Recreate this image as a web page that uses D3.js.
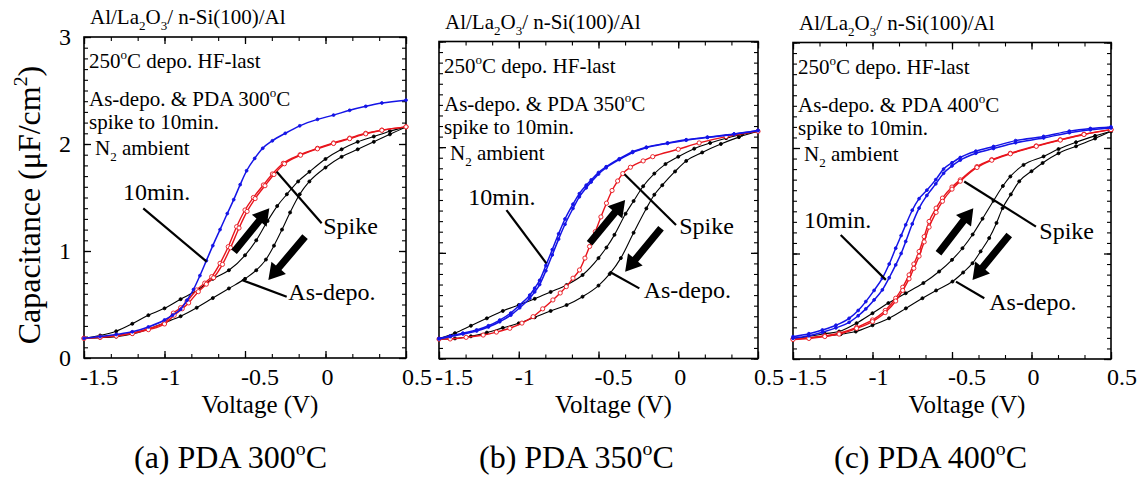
<!DOCTYPE html>
<html>
<head>
<meta charset="utf-8">
<script src="https://cdn.jsdelivr.net/npm/d3@7"></script>
<style>
  body { margin: 0; background: #fff; }
  svg { display: block; }
  text { font-family: "Liberation Serif", "Times New Roman", serif; fill: #000; }
</style>
</head>
<body>
<div id="chart"></div>
<script>
// Axis ticks
const xMajor = [-1.5, -1, -0.5, 0, 0.5];
const xTickLabels = ["-1.5", "-1", "-0.5", "0", "0.5"];
const yMajor = [0, 1, 2, 3];
const yTickLabels = ["0", "1", "2", "3"];

// (a) PDA 300C  -- [voltage, capacitance]
const a_blue = [[-1.5,0.184],[-1.4,0.2],[-1.3,0.22],[-1.2,0.245],[-1.1,0.29],[-1.0,0.355],[-0.95,0.4],[-0.9,0.455],[-0.86,0.54],[-0.82,0.64],[-0.78,0.77],[-0.74,0.91],[-0.7,1.05],[-0.655,1.2],[-0.61,1.35],[-0.57,1.48],[-0.53,1.62],[-0.49,1.75],[-0.44,1.865],[-0.39,1.96],[-0.33,2.03],[-0.25,2.1],[-0.16,2.17],[-0.05,2.23],[0.05,2.27],[0.15,2.315],[0.25,2.352],[0.35,2.383],[0.5,2.41]];
const a_red1 = [[-1.5,0.184],[-1.4,0.195],[-1.3,0.21],[-1.2,0.235],[-1.1,0.275],[-1.0,0.33],[-0.945,0.42],[-0.9,0.47],[-0.86,0.53],[-0.8,0.636],[-0.75,0.7],[-0.707,0.76],[-0.655,0.885],[-0.604,1.04],[-0.552,1.227],[-0.5,1.383],[-0.448,1.5],[-0.386,1.617],[-0.33,1.72],[-0.262,1.82],[-0.158,1.9],[-0.05,1.96],[0.05,2.01],[0.15,2.055],[0.25,2.1],[0.35,2.13],[0.5,2.16]];
const a_red2 = [[-1.5,0.184],[-1.4,0.193],[-1.3,0.205],[-1.2,0.228],[-1.1,0.265],[-1.0,0.318],[-0.94,0.4],[-0.89,0.46],[-0.85,0.515],[-0.79,0.62],[-0.74,0.69],[-0.695,0.75],[-0.64,0.875],[-0.59,1.03],[-0.537,1.215],[-0.487,1.37],[-0.437,1.49],[-0.376,1.61],[-0.32,1.715],[-0.255,1.815],[-0.155,1.895],[-0.05,1.955],[0.05,2.005],[0.15,2.05],[0.25,2.095],[0.35,2.128],[0.5,2.16]];
const a_blackUp = [[-1.5,0.184],[-1.4,0.21],[-1.3,0.25],[-1.2,0.32],[-1.1,0.4],[-1.0,0.464],[-0.9,0.55],[-0.8,0.63],[-0.7,0.74],[-0.6,0.82],[-0.5,0.96],[-0.43,1.1],[-0.36,1.28],[-0.3,1.42],[-0.24,1.53],[-0.17,1.65],[-0.1,1.74],[0.0,1.86],[0.1,1.95],[0.2,2.02],[0.3,2.07],[0.4,2.12],[0.5,2.16]];
const a_blackDown = [[-1.5,0.184],[-1.4,0.19],[-1.3,0.2],[-1.2,0.225],[-1.1,0.27],[-1.0,0.33],[-0.9,0.39],[-0.8,0.47],[-0.7,0.56],[-0.6,0.65],[-0.5,0.74],[-0.43,0.82],[-0.37,0.92],[-0.32,1.05],[-0.27,1.2],[-0.22,1.36],[-0.16,1.53],[-0.1,1.65],[0.0,1.78],[0.1,1.88],[0.2,1.95],[0.3,2.02],[0.4,2.09],[0.5,2.16]];

// (b) PDA 350C
const b_blue1 = [[-1.5,0.19],[-1.43,0.213],[-1.35,0.24],[-1.264,0.27],[-1.19,0.31],[-1.119,0.364],[-1.05,0.43],[-0.994,0.506],[-0.931,0.6],[-0.9,0.665],[-0.869,0.74],[-0.83,0.88],[-0.79,1.03],[-0.75,1.18],[-0.71,1.32],[-0.66,1.46],[-0.62,1.56],[-0.577,1.64],[-0.546,1.69],[-0.5,1.76],[-0.452,1.815],[-0.37,1.89],[-0.286,1.957],[-0.2,2.0],[-0.067,2.04],[0.05,2.07],[0.183,2.095],[0.35,2.125],[0.5,2.158]];
const b_blue2 = [[-1.5,0.185],[-1.43,0.207],[-1.35,0.232],[-1.264,0.26],[-1.19,0.298],[-1.119,0.348],[-1.05,0.41],[-0.994,0.48],[-0.931,0.57],[-0.9,0.63],[-0.869,0.7],[-0.83,0.83],[-0.79,0.98],[-0.75,1.13],[-0.71,1.27],[-0.66,1.42],[-0.62,1.53],[-0.577,1.615],[-0.546,1.67],[-0.5,1.745],[-0.452,1.805],[-0.37,1.882],[-0.286,1.95],[-0.2,1.995],[-0.067,2.036],[0.05,2.066],[0.183,2.092],[0.35,2.123],[0.5,2.158]];
const b_red = [[-1.5,0.183],[-1.43,0.185],[-1.33,0.2],[-1.223,0.222],[-1.14,0.25],[-1.056,0.286],[-0.98,0.335],[-0.91,0.396],[-0.85,0.47],[-0.786,0.554],[-0.74,0.62],[-0.702,0.68],[-0.66,0.76],[-0.619,0.838],[-0.585,0.95],[-0.556,1.06],[-0.52,1.2],[-0.485,1.34],[-0.45,1.47],[-0.415,1.59],[-0.38,1.68],[-0.348,1.75],[-0.3,1.81],[-0.22,1.87],[-0.16,1.91],[0.0,1.98],[0.131,2.04],[0.3,2.1],[0.5,2.15]];
const b_blackUp = [[-1.5,0.19],[-1.4,0.24],[-1.3,0.31],[-1.2,0.38],[-1.1,0.45],[-1.0,0.506],[-0.9,0.565],[-0.8,0.63],[-0.7,0.696],[-0.6,0.79],[-0.5,0.95],[-0.45,1.05],[-0.4,1.17],[-0.33,1.37],[-0.28,1.49],[-0.22,1.63],[-0.15,1.75],[-0.08,1.84],[0.0,1.91],[0.1,1.986],[0.2,2.04],[0.3,2.085],[0.4,2.12],[0.5,2.15]];
const b_blackDown = [[-1.5,0.183],[-1.4,0.19],[-1.3,0.21],[-1.2,0.245],[-1.1,0.29],[-1.0,0.333],[-0.9,0.39],[-0.8,0.45],[-0.7,0.506],[-0.6,0.585],[-0.5,0.69],[-0.43,0.8],[-0.36,0.95],[-0.28,1.19],[-0.2,1.42],[-0.15,1.55],[-0.1,1.64],[-0.02,1.77],[0.05,1.87],[0.15,1.95],[0.267,2.03],[0.38,2.095],[0.5,2.15]];

// (c) PDA 400C
const c_blue1 = [[-1.5,0.212],[-1.4,0.24],[-1.315,0.275],[-1.23,0.32],[-1.147,0.386],[-1.09,0.46],[-1.042,0.544],[-0.99,0.65],[-0.938,0.766],[-0.895,0.9],[-0.854,1.05],[-0.82,1.17],[-0.791,1.272],[-0.75,1.41],[-0.707,1.52],[-0.658,1.6],[-0.602,1.7],[-0.553,1.8],[-0.5,1.86],[-0.448,1.91],[-0.35,1.97],[-0.239,2.014],[-0.1,2.07],[0.076,2.11],[0.238,2.16],[0.37,2.185],[0.5,2.2]];
const c_blue2 = [[-1.5,0.196],[-1.4,0.22],[-1.315,0.253],[-1.23,0.295],[-1.147,0.348],[-1.09,0.41],[-1.042,0.475],[-0.99,0.56],[-0.938,0.655],[-0.895,0.77],[-0.854,0.892],[-0.82,1.0],[-0.791,1.114],[-0.75,1.28],[-0.707,1.43],[-0.658,1.55],[-0.602,1.66],[-0.553,1.76],[-0.5,1.83],[-0.448,1.885],[-0.35,1.95],[-0.239,1.995],[-0.1,2.05],[0.076,2.095],[0.238,2.145],[0.37,2.172],[0.5,2.19]];
const c_red1 = [[-1.5,0.19],[-1.4,0.2],[-1.3,0.22],[-1.21,0.244],[-1.1,0.3],[-1.0,0.37],[-0.92,0.46],[-0.854,0.576],[-0.81,0.68],[-0.77,0.797],[-0.74,0.9],[-0.707,1.019],[-0.675,1.16],[-0.644,1.304],[-0.6,1.43],[-0.56,1.525],[-0.5,1.63],[-0.448,1.698],[-0.343,1.824],[-0.25,1.89],[-0.133,1.95],[0.03,2.02],[0.181,2.078],[0.33,2.13],[0.5,2.174]];
const c_red2 = [[-1.5,0.185],[-1.4,0.195],[-1.3,0.213],[-1.21,0.236],[-1.1,0.29],[-1.0,0.355],[-0.92,0.44],[-0.854,0.55],[-0.81,0.65],[-0.77,0.76],[-0.74,0.86],[-0.707,0.975],[-0.675,1.11],[-0.644,1.25],[-0.6,1.39],[-0.56,1.495],[-0.5,1.61],[-0.448,1.685],[-0.343,1.815],[-0.25,1.884],[-0.133,1.945],[0.03,2.016],[0.181,2.075],[0.33,2.128],[0.5,2.174]];
const c_blackUp = [[-1.5,0.19],[-1.4,0.215],[-1.3,0.24],[-1.21,0.26],[-1.1,0.34],[-1.0,0.434],[-0.9,0.53],[-0.791,0.623],[-0.68,0.72],[-0.581,0.829],[-0.5,0.94],[-0.434,1.05],[-0.37,1.18],[-0.308,1.33],[-0.239,1.5],[-0.18,1.64],[-0.133,1.73],[-0.05,1.84],[0.076,1.92],[0.17,1.99],[0.28,2.055],[0.4,2.115],[0.5,2.16]];
const c_blackDown = [[-1.5,0.19],[-1.4,0.2],[-1.3,0.215],[-1.2,0.235],[-1.105,0.26],[-1.0,0.32],[-0.896,0.386],[-0.79,0.48],[-0.686,0.576],[-0.6,0.65],[-0.497,0.734],[-0.43,0.82],[-0.371,0.908],[-0.32,1.02],[-0.266,1.146],[-0.22,1.29],[-0.182,1.43],[-0.13,1.56],[-0.077,1.684],[0.0,1.78],[0.07,1.858],[0.17,1.95],[0.28,2.016],[0.4,2.09],[0.5,2.158]];

const temps = ["300", "350", "400"];
const letters = ["(a)", "(b)", "(c)"];

// Layout of the three panels (pixel frames) and annotation anchors (data units)
const panels = [
  { left: 84, right: 406, top: 37, bottom: 358, capX: 134,
    curves: { black: [a_blackUp, a_blackDown], red: [a_red1, a_red2], blue: [a_blue] },
    notes: { tenMin: [-1.258, 1.477], tenLine: [[-1.132, 1.399], [-0.738, 0.9]],
             spike: [-0.014, 1.159], spikeLine: [[-0.303, 1.741], [-0.024, 1.259]],
             asdepo: [-0.231, 0.542], asLine: [[-0.52, 0.729], [-0.241, 0.573]],
             up: [[-0.568, 0.993], [-0.349, 1.399]], down: [[-0.127, 1.134], [-0.355, 0.729]] } },
  { left: 439, right: 758, top: 41.5, bottom: 358.5, capX: 479,
    curves: { black: [b_blackUp, b_blackDown], red: [b_red], blue: [b_blue1, b_blue2] },
    notes: { tenMin: [-1.317, 1.453], tenLine: [[-1.077, 1.405], [-0.827, 0.901]],
             spike: [0.006, 1.175], spikeLine: [[-0.337, 1.743], [-0.014, 1.263]],
             asdepo: [-0.217, 0.57], asLine: [[-0.431, 0.821], [-0.244, 0.664]],
             up: [[-0.556, 1.09], [-0.333, 1.5]], down: [[-0.108, 1.232], [-0.333, 0.821]] } },
  { left: 793, right: 1111, top: 42.5, bottom: 359, capX: 834,
    curves: { black: [c_blackUp, c_blackDown], red: [c_red1, c_red2], blue: [c_blue1, c_blue2] },
    notes: { tenMin: [-1.431, 1.24], tenLine: [[-1.2, 1.176], [-0.916, 0.75]],
             spike: [0.049, 1.139], spikeLine: [[-0.423, 1.682], [0.028, 1.255]],
             asdepo: [-0.266, 0.465], asLine: [[-0.475, 0.733], [-0.297, 0.576]],
             up: [[-0.585, 1.003], [-0.366, 1.43]], down: [[-0.14, 1.176], [-0.371, 0.75]] } }
];

const BLUE = "#1414e6", RED = "#e8141c";

const svg = d3.select("#chart").append("svg")
    .attr("width", 1147)
    .attr("height", 477);
svg.append("rect").attr("width", 1147).attr("height", 477).attr("fill", "#fff");

// text with sub/superscripts: parts = [[string, "sup"|"sub"|undefined], ...]
function rich(sel, parts, size) {
  let shift = 0;
  parts.forEach(p => {
    const target = p[1] === "sup" ? -size * 0.42 : p[1] === "sub" ? size * 0.3 : 0;
    const t = sel.append("tspan").text(p[0]).attr("dy", target - shift);
    if (p[1]) t.attr("font-size", size * 0.62);
    shift = target;
  });
  return sel;
}

function arrowPath(x1, y1, x2, y2) {
  const dx = x2 - x1, dy = y2 - y1, len = Math.hypot(dx, dy);
  const ux = dx / len, uy = dy / len, nx = -uy, ny = ux;
  const sw = 3.6, hw = 9.5, hl = 16;
  const bx = x2 - ux * hl, by = y2 - uy * hl;
  const pts = [
    [x1 + nx * sw, y1 + ny * sw], [bx + nx * sw, by + ny * sw], [bx + nx * hw, by + ny * hw],
    [x2, y2], [bx - nx * hw, by - ny * hw], [bx - nx * sw, by - ny * sw], [x1 - nx * sw, y1 - ny * sw]
  ];
  return "M" + pts.map(p => p.join(",")).join("L") + "Z";
}

panels.forEach((p, i) => {
  const x = d3.scaleLinear().domain([-1.5, 0.5]).range([p.left, p.right]);
  const y = d3.scaleLinear().domain([0, 3]).range([p.bottom, p.top]);
  const g = svg.append("g");

  // inward ticks on all four sides
  const xMinor = d3.range(0, 13).map(k => -1.5 + k * 0.5 / 3);
  const yMinor = d3.range(0, 31).map(k => k * 0.1);
  const tickSets = [
    [d3.axisBottom(x), `translate(0,${p.bottom})`, xMajor, xMinor],
    [d3.axisTop(x), `translate(0,${p.top})`, xMajor, xMinor],
    [d3.axisLeft(y), `translate(${p.left},0)`, yMajor, yMinor],
    [d3.axisRight(y), `translate(${p.right},0)`, yMajor, yMinor]
  ];
  tickSets.forEach(([axis, tr, major, minor]) => {
    g.append("g").attr("transform", tr)
      .call(axis.tickValues(minor).tickSize(-4).tickFormat(""))
      .call(s => s.select(".domain").remove())
      .selectAll("line").attr("stroke-width", 1.1);
    g.append("g").attr("transform", tr)
      .call(axis.tickValues(major).tickSize(-7).tickFormat(""))
      .call(s => s.select(".domain").remove())
      .selectAll("line").attr("stroke-width", 1.3);
  });

  g.append("rect")
    .attr("x", p.left).attr("y", p.top)
    .attr("width", p.right - p.left).attr("height", p.bottom - p.top)
    .attr("fill", "none").attr("stroke", "#000").attr("stroke-width", 1.6);

  // x tick labels
  g.selectAll(".xl").data(xMajor).join("text")
    .attr("x", d => x(d) - 4).attr("y", 385)
    .attr("font-size", 24).text((d, k) => xTickLabels[k]);

  // y tick labels only on the first panel
  if (i === 0) {
    g.selectAll(".yl").data(yMajor).join("text")
      .attr("x", p.left - 13).attr("y", d => y(d))
      .attr("dy", "0.35em").attr("text-anchor", "end")
      .attr("font-size", 24).text((d, k) => yTickLabels[k]);
    rich(g.append("text")
      .attr("transform", `translate(${p.left - 44},205) rotate(-90)`)
      .attr("text-anchor", "middle").attr("font-size", 32),
      [["Capacitance (\u03BCF/cm"], ["2", "sup"], [")"]], 32);
  }

  // axis title and caption
  g.append("text").attr("x", (p.left + p.right) / 2 + 15).attr("y", 413)
    .attr("text-anchor", "middle").attr("font-size", 25).text("Voltage (V)");
  rich(g.append("text").attr("x", p.capX).attr("y", 468).attr("font-size", 32),
    [[letters[i] + " PDA " + temps[i]], ["o", "sup"], ["C"]], 32);

  // header texts
  rich(g.append("text").attr("x", p.left + 6).attr("y", p.top - 13).attr("font-size", 21),
    [["Al/La"], ["2", "sub"], ["O"], ["3", "sub"], ["/ n-Si(100)/Al"]], 21);
  rich(g.append("text").attr("x", p.left + 5).attr("y", p.top + 31).attr("font-size", 21),
    [["250"], ["o", "sup"], ["C depo. HF-last"]], 21);
  rich(g.append("text").attr("x", p.left + 5).attr("y", p.top + 69).attr("font-size", 21),
    [["As-depo. & PDA " + temps[i]], ["o", "sup"], ["C"]], 21);
  g.append("text").attr("x", p.left + 5).attr("y", p.top + 92).attr("font-size", 21)
    .text("spike to 10min.");
  rich(g.append("text").attr("x", p.left + 11).attr("y", p.top + 118).attr("font-size", 21),
    [["N"], ["2", "sub"], [" ambient"]], 21);

  // curves
  const line = d3.line().x(d => x(d[0])).y(d => y(d[1])).curve(d3.curveMonotoneX);
  const styles = {
    black: { color: "#000", r: 1.5, fill: "#000", w: 1.1 },
    red:   { color: RED, r: 2.1, fill: "#fff", w: 1.4 },
    blue:  { color: BLUE, r: 1.4, fill: BLUE, w: 1.5 }
  };
  ["black", "red", "blue"].forEach(key => {
    const st = styles[key];
    p.curves[key].forEach(data => {
      g.append("path").datum(data)
        .attr("fill", "none").attr("stroke", st.color).attr("stroke-width", st.w)
        .attr("d", line);
      g.selectAll(null).data(data).join("circle")
        .attr("cx", d => x(d[0])).attr("cy", d => y(d[1])).attr("r", st.r)
        .attr("fill", st.fill).attr("stroke", st.color).attr("stroke-width", 0.9);
    });
  });

  // annotations
  const n = p.notes;
  [n.tenLine, n.spikeLine, n.asLine].forEach(l => {
    g.append("line")
      .attr("x1", x(l[0][0])).attr("y1", y(l[0][1]))
      .attr("x2", x(l[1][0])).attr("y2", y(l[1][1]))
      .attr("stroke", "#000").attr("stroke-width", 2.2);
  });
  [[n.tenMin, "10min."], [n.spike, "Spike"], [n.asdepo, "As-depo."]].forEach(([pos, t]) => {
    g.append("text").attr("x", x(pos[0])).attr("y", y(pos[1]))
      .attr("font-size", 24).text(t);
  });
  [n.up, n.down].forEach(a => {
    g.append("path")
      .attr("d", arrowPath(x(a[0][0]), y(a[0][1]), x(a[1][0]), y(a[1][1])))
      .attr("fill", "#000");
  });
});
</script>
</body>
</html>
